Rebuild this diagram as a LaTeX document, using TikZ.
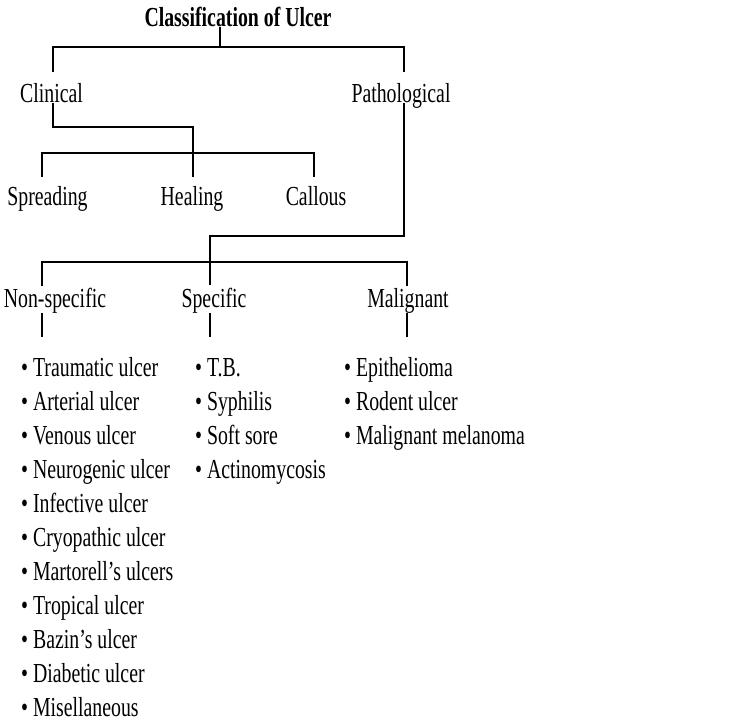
\documentclass[tikz,border=0pt]{standalone}
\usepackage{fontspec}
\setmainfont[FakeStretch=0.72]{Liberation Serif}
\begin{document}
\begin{tikzpicture}[x=1pt,y=-1pt]
		    \tikzset{every node/.style={inner sep=0pt,anchor=base,font=\fontsize{27.5}{27.5}\selectfont},
		             branch/.style={line width=1.6pt},
		             listitem/.style={anchor=base west}}
		    \useasboundingbox (0,0) rectangle (751,722);
		    % headings
		    \node (title) at (238,27) {\textbf{Classification of Ulcer}};
		    \node (clinical) at (51.5,103) {Clinical};
		    \node (pathological) at (401,103) {Pathological};
		    \node (spreading) at (47.5,205) {Spreading};
		    \node (healing) at (192,205) {Healing};
		    \node (callous) at (316,205) {Callous};
		    \node (nonspecific) at (55,307) {Non-specific};
		    \node (specific) at (214,307) {Specific};
		    \node (malignant) at (408,307) {Malignant};
		    % joints
		    \coordinate (t-bar) at (220,47);
		    \coordinate (cl-up) at (53,72);
		    \coordinate (pa-up) at (404,72);
		    \coordinate (cl-elbow) at (193,127);
		    \coordinate (cl-bar) at (193,153);
		    \coordinate (sp-up) at (42,177);
		    \coordinate (ca-up) at (314,177);
		    \coordinate (pa-elbow) at (210,236);
		    \coordinate (sf-up) at (210,285);
		    \coordinate (pa-bar) at (210,262);
		    \coordinate (ns-up) at (42,286);
		    \coordinate (ml-up) at (407,286);
		    % connectors
		    \draw[branch] (title.base -| t-bar) -- (t-bar);
		    \draw[branch] (cl-up) |- (t-bar) -| (pa-up);
		    \draw[branch] (clinical.base -| cl-up) |- (cl-elbow) -- (cl-bar |- sp-up);
		    \draw[branch] (sp-up) |- (cl-bar) -| (ca-up);
		    \draw[branch] (pathological.base -| pa-up) |- (pa-elbow) -- (sf-up);
		    \draw[branch] (ns-up) |- (pa-bar) -| (ml-up);
		    \foreach \x in {42,210,407}
		        \draw[branch] (\x,313) -- (\x,337);
		    % lists
		    \foreach \item [count=\i] in {Traumatic ulcer,Arterial ulcer,Venous ulcer,Neurogenic ulcer,
		        Infective ulcer,Cryopathic ulcer,Martorell’s ulcers,Tropical ulcer,Bazin’s ulcer,
		        Diabetic ulcer,Misellaneous}
		        \node[listitem] (ns-\i) at (21,342+34*\i) {\textbullet\ \item};
		    \foreach \item [count=\i] in {T.B.,Syphilis,Soft sore,Actinomycosis}
		        \node[listitem] (sf-\i) at (195,342+34*\i) {\textbullet\ \item};
		    \foreach \item [count=\i] in {Epithelioma,Rodent ulcer,Malignant melanoma}
		        \node[listitem] (ml-\i) at (344,342+34*\i) {\textbullet\ \item};
\end{tikzpicture}
\end{document}
